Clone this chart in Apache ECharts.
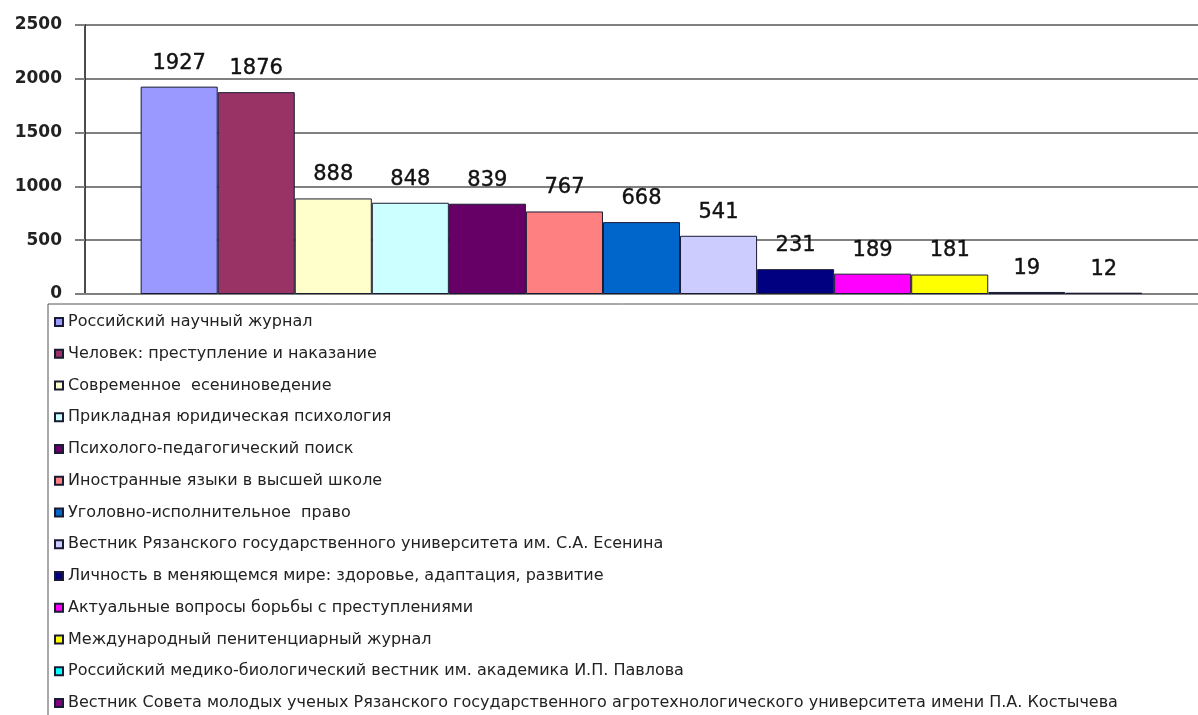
<!DOCTYPE html>
<html><head><meta charset="utf-8">
<script src="https://cdn.jsdelivr.net/npm/echarts@6/dist/echarts.min.js"></script>
<style>html,body{margin:0;padding:0;background:#fff}#c{width:1198px;height:715px}</style>
</head><body><div id="c"></div>
<script>
const journals = [
  "Российский научный журнал",
  "Человек: преступление и наказание",
  "Современное  есениноведение",
  "Прикладная юридическая психология",
  "Психолого-педагогический поиск",
  "Иностранные языки в высшей школе",
  "Уголовно-исполнительное  право",
  "Вестник Рязанского государственного университета им. С.А. Есенина",
  "Личность в меняющемся мире: здоровье, адаптация, развитие",
  "Актуальные вопросы борьбы с преступлениями",
  "Международный пенитенциарный журнал",
  "Российский медико-биологический вестник им. академика И.П. Павлова",
  "Вестник Совета молодых ученых Рязанского государственного агротехнологического университета имени П.А. Костычева"
];
const values = [1927, 1876, 888, 848, 839, 767, 668, 541, 231, 189, 181, 19, 12];
const colors = ["#9999FF","#993366","#FFFFCC","#CCFFFF","#660066","#FF8080","#0066CC","#CCCCFF","#000080","#FF00FF","#FFFF00","#00FFFF","#800080"];
const yTicks = [0, 500, 1000, 1500, 2000, 2500];

const chart = echarts.init(document.getElementById('c'));
const series = journals.map((name, i) => ({
  name: name,
  type: 'bar',
  data: [values[i]],
  barGap: '0%',
  barCategoryGap: '10%',
  itemStyle: { color: colors[i], borderColor: '#1a1a33', borderWidth: 1 },
  label: { show: true, position: 'top', distance: 13, fontSize: 21, fontFamily: 'DejaVu Sans', color: '#111',
           textBorderColor: '#111', textBorderWidth: 0.4 }
}));
chart.setOption({
  animation: false,
  backgroundColor: '#fff',
  grid: { left: 85, right: 0, top: 25, bottom: 421, containLabel: false },
  xAxis: {
    type: 'category', data: [''],
    axisLine: { show: true, lineStyle: { color: '#808080', width: 2 } },
    axisTick: { show: false }, axisLabel: { show: false }
  },
  yAxis: {
    type: 'value', min: yTicks[0], max: yTicks[yTicks.length-1], interval: 500,
    axisLine: { show: true, lineStyle: { color: '#111', width: 1.5 } },
    axisTick: { show: true, length: 10, lineStyle: { color: '#808080', width: 2 } },
    axisLabel: { margin: 23, fontSize: 17, fontWeight: 'bold', fontFamily: 'DejaVu Sans', color: '#222',
                 formatter: v => String(v) },
    splitLine: { show: true, lineStyle: { color: '#808080', width: 2 } }
  },
  legend: {
    type: 'plain',
    orient: 'vertical', left: 48, top: 304, height: 600,
    padding: [10, 200, 40, 6],
    itemWidth: 8, itemHeight: 8, itemGap: 15.75,
    icon: 'rect',
    borderColor: '#555', borderWidth: 1,
    selectedMode: false,
    textStyle: { fontSize: 16, fontFamily: 'DejaVu Sans', color: '#222', lineHeight: 16 }
  },
  series: series
});
</script></body></html>
